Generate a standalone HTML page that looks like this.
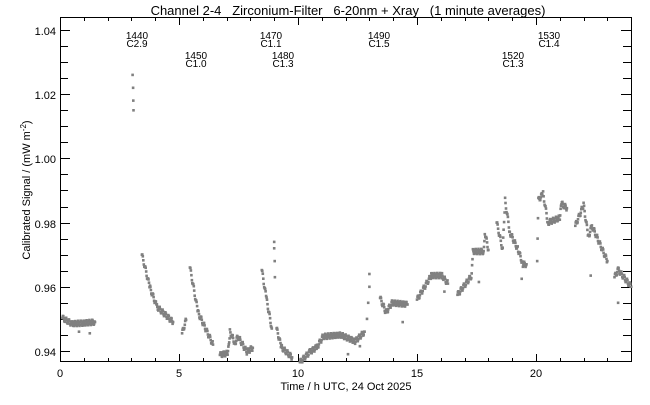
<!DOCTYPE html>
<html><head><style>
body{margin:0;background:#fff;}
svg text{font-family:"Liberation Sans",sans-serif;fill:#000;}
</style></head><body>
<svg id="s" width="650" height="400" xmlns="http://www.w3.org/2000/svg">
<rect width="650" height="400" fill="#fff"/>
<text x="348" y="15" font-size="13" text-anchor="middle" xml:space="preserve">Channel 2-4   Zirconium-Filter   6-20nm + Xray   (1 minute averages)</text>
<g id="ax" stroke="#000" stroke-width="1" fill="none">
<rect x="60.5" y="17.5" width="571" height="344"/>
</g>
<g font-size="11" text-anchor="end">
<text x="56" y="35">1.04</text>
<text x="56" y="99">1.02</text>
<text x="56" y="163">1.00</text>
<text x="56" y="228">0.98</text>
<text x="56" y="292">0.96</text>
<text x="56" y="356">0.94</text>
</g>
<g font-size="11" text-anchor="middle">
<text x="60" y="377">0</text>
<text x="179" y="377">5</text>
<text x="298" y="377">10</text>
<text x="417" y="377">15</text>
<text x="536" y="377">20</text>
<text x="346" y="390">Time / h UTC, 24 Oct 2025</text>
</g>
<text font-size="11" text-anchor="middle" transform="translate(30,190) rotate(-90)">Calibrated Signal / (mW m<tspan font-size="8" dy="-4">-2</tspan><tspan dy="4">)</tspan></text>
<g font-size="10" text-anchor="middle">
<text x="137" y="39">1440</text><text x="137" y="47">C2.9</text>
<text x="196" y="59">1450</text><text x="196" y="67">C1.0</text>
<text x="271" y="39">1470</text><text x="271" y="47">C1.1</text>
<text x="283" y="59">1480</text><text x="283" y="67">C1.3</text>
<text x="379" y="39">1490</text><text x="379" y="47">C1.5</text>
<text x="513" y="59">1520</text><text x="513" y="67">C1.3</text>
<text x="549" y="39">1530</text><text x="549" y="47">C1.4</text>
</g>
<g id="d" fill="#808080"></g>
</svg>
<script>
var ns="http://www.w3.org/2000/svg",ax=document.getElementById('ax'),d=document.getElementById('d');
function X(h){return 60+h*23.8;}function Y(v){return 351-(v-0.94)*3210;}
function ln(x1,y1,x2,y2){var l=document.createElementNS(ns,'line');l.setAttribute('x1',x1);l.setAttribute('y1',y1);l.setAttribute('x2',x2);l.setAttribute('y2',y2);ax.appendChild(l);}
for(var h=0;h<=24;h++){var x=Math.round(X(h))+0.5,L=h%5==0?8:4;ln(x,362,x,362-L);ln(x,17,x,17+L);}
for(var i=0;i<=21;i++){var v=0.94+(i-1)*0.005,y=Math.round(Y(v))+0.5;if(y<17||y>362)continue;var L=i%4==1?10:8;ln(60,y,60+L,y);ln(631,y,631-L,y);}
function pt(h,v){var r=document.createElementNS(ns,'rect');r.setAttribute('x',(X(h)-1.3).toFixed(1));r.setAttribute('y',(Y(v)-1.3).toFixed(1));r.setAttribute('width',2.6);r.setAttribute('height',2.6);d.appendChild(r);}
var segs=[
[[0.1,0.9503],[0.5,0.9485],[1.0,0.9487],[1.47,0.949]],
[[3.44,0.970],[3.78,0.9597],[4.07,0.9538],[4.75,0.949]],
[[5.13,0.9455],[5.3,0.9497]],
[[5.46,0.966],[5.8,0.952],[6.43,0.942]],
[[6.72,0.9388],[7.06,0.9393],[7.14,0.946],[7.35,0.9425],[7.48,0.9445],[7.85,0.9397],[8.1,0.941]],
[[8.48,0.9652],[8.68,0.956],[8.9,0.947]],
[[9.1,0.947],[9.3,0.9412],[9.75,0.938]],
[[10.08,0.9365],[10.5,0.9397],[10.8,0.9412],[11.05,0.9445],[11.8,0.945],[12.4,0.943],[12.8,0.946]],
[[13.45,0.9565],[13.7,0.952],[13.95,0.955],[14.6,0.9545]],
[[15.0,0.956],[15.6,0.9635],[16.05,0.9635],[16.3,0.961]],
[[16.7,0.9575],[17.3,0.9635],[17.35,0.971],[17.8,0.971],[17.85,0.977],[18.0,0.9715]],
[[18.35,0.980],[18.6,0.9715],[18.7,0.987],[18.9,0.977],[19.25,0.9715],[19.45,0.967],[19.6,0.967]],
[[20.05,0.968],[20.1,0.987],[20.3,0.989],[20.5,0.980],[21.0,0.9815],[21.05,0.986],[21.3,0.9845]],
[[21.65,0.979],[22.0,0.9855],[22.2,0.9755],[22.35,0.979],[23.0,0.968]],
[[23.3,0.963],[23.45,0.9653],[24,0.960]]];
segs.forEach(function(s){for(var k=0;k<s.length-1;k++){var a=s[k],b=s[k+1],n=Math.max(2,Math.ceil((b[0]-a[0])/0.02));for(var j=0;j<n;j++){var t=j/n;pt(a[0]+t*(b[0]-a[0]),a[1]+t*(b[1]-a[1])+(Math.sin(j*7.3+k)*0.0008));}}pt(s[s.length-1][0],s[s.length-1][1]);});
[[3.05,1.026],[3.07,1.022],[3.08,1.018],[3.09,1.015],[9.0,0.974],[9.0,0.972],[9.02,0.968],[9.03,0.963],[13.0,0.964],[13.0,0.960],[12.95,0.955],[12.9,0.950],[12.6,0.9415],[12.1,0.939],[19.4,0.9625],[22.3,0.9635],[23.45,0.955],[16.15,0.9585],[14.4,0.949],[17.6,0.9615],[0.8,0.946],[1.25,0.9455]].forEach(function(p){pt(p[0],p[1]);});
</script>
</body></html>
